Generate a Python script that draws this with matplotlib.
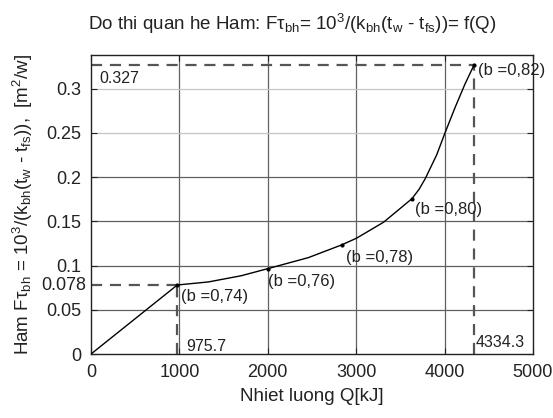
import matplotlib
matplotlib.use("Agg")
import matplotlib.pyplot as plt

# curve
q_curve = [0, 975.7, 1330, 1700, 2000, 2460, 2840, 3005, 3310, 3630, 3710, 3780,
           3910, 4005, 4120, 4230, 4334.3]
f_curve = [0, 0.078, 0.0815, 0.0885, 0.0965, 0.109, 0.1235, 0.131, 0.149, 0.1755, 0.186, 0.198,
           0.225, 0.250, 0.279, 0.305, 0.327]

# marked points and their labels
q_marks = [975.7, 2000, 2840, 3630, 4334.3]
f_marks = [0.078, 0.0965, 0.1235, 0.1755, 0.327]
b_labels = ["(b =0,74)", "(b =0,76)", "(b =0,78)", "(b =0,80)", "(b =0,82)"]

q_ref = [975.7, 4334.3]
f_ref = [0.078, 0.327]

xticks = [0, 1000, 2000, 3000, 4000, 5000]
yticks = [0, 0.05, 0.1, 0.15, 0.2, 0.25, 0.3]
ytick_labels = ["0", "0.05", "0.1", "0.15", "0.2", "0.25", "0.3"]

plt.rcParams["font.family"] = ["Liberation Sans", "DejaVu Sans"]
plt.rcParams["mathtext.fontset"] = "custom"
plt.rcParams["mathtext.rm"] = "Liberation Sans"
plt.rcParams["mathtext.it"] = "Liberation Sans:italic"
plt.rcParams["mathtext.default"] = "regular"

txt = "#222222"

fig = plt.figure(figsize=(5.53, 4.18), dpi=100)
ax = fig.add_axes([0.1646, 0.1531, 0.7992, 0.7153])

ax.set_xlim(0, 5000)
ax.set_ylim(0, 0.338)

# grid (upper horizontal lines are lighter in the reference)
for x in xticks[1:-1]:
    ax.axvline(x, color="#606060", lw=0.9, zorder=1)
for y in yticks[1:]:
    c = "#c4c4c4" if y >= 0.25 else "#606060"
    ax.axhline(y, color=c, lw=0.9, zorder=1)

dash = dict(color="#555555", lw=1.6, ls=(0, (5, 3.5)), zorder=2)
for q, f in zip(q_ref, f_ref):
    ax.plot([0, q], [f, f], **dash)
    ax.plot([q, q], [0, f], **dash)

ax.plot(q_curve, f_curve, color="black", lw=1.0, zorder=3)
ax.plot(q_marks, f_marks, "o", color="black", markersize=2, zorder=4)

offsets = [(3, -8.5), (0, -9), (3, -9), (2, -8), (3, -4)]
for q, f, lab, off in zip(q_marks, f_marks, b_labels, offsets):
    ax.annotate(lab, (q, f), xytext=off, textcoords="offset points",
                ha="left", va="center", fontsize=12, color=txt)

ax.text(1075, 0.008, "975.7", ha="left", va="center", fontsize=11.5, color=txt)
ax.text(4350, 0.0125, "4334.3", ha="left", va="center", fontsize=11.5, color=txt)
ax.text(100, 0.311, "0.327", ha="left", va="center", fontsize=11.5, color=txt)
ax.text(-55, 0.078, "0.078", ha="right", va="center", fontsize=13, color=txt)

ax.set_xticks(xticks)
ax.set_yticks(yticks)
ax.set_yticklabels(ytick_labels)
ax.tick_params(direction="in", length=4, labelsize=13, colors=txt,
               top=True, right=True)
ax.tick_params(axis="x", pad=7)
ax.tick_params(axis="y", pad=7)
for s in ax.spines.values():
    s.set_color(txt)
    s.set_linewidth(1.0)

ax.set_xlabel("Nhiet luong Q[kJ]", fontsize=13.5, color=txt, labelpad=5)
ax.set_ylabel(r"Ham F$\tau_{bh}$ = 10$^3$/(k$_{bh}$(t$_w$ - t$_{fs}$)),  [m$^2$/w]",
              fontsize=13.5, color=txt, labelpad=8)
ax.set_title(r"Do thi quan he Ham: F$\tau_{bh}$= 10$^3$/(k$_{bh}$(t$_w$ - t$_{fs}$))= f(Q)",
             fontsize=13.5, color=txt, pad=18, x=0.455)

fig.savefig("out.png", dpi=100)
